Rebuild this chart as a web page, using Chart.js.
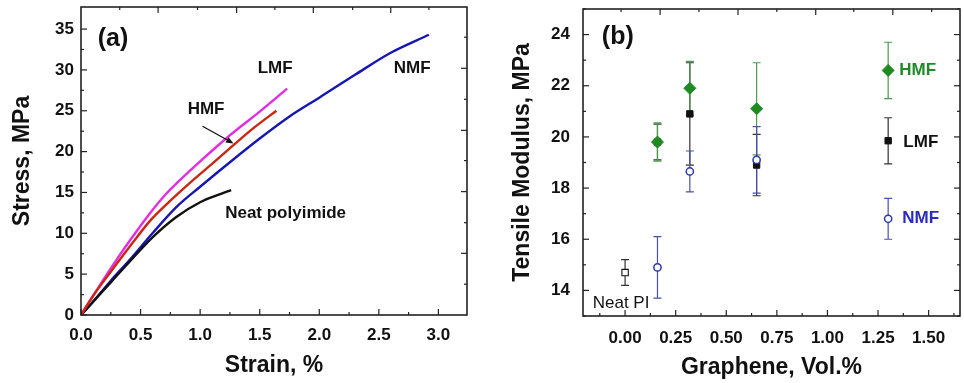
<!DOCTYPE html>
<html lang="en">
<head>
<meta charset="UTF-8">
<title>Stress-strain and tensile modulus</title>
<style>
  html, body { margin: 0; background: #fff; overflow: hidden; }
  #wrap { position: relative; width: 964px; height: 383px; overflow: hidden; }
  canvas { position: absolute; top: 0; }
</style>
</head>
<body>
<div id="wrap">
  <canvas id="chartA" width="480" height="383" style="left:0"></canvas>
  <canvas id="chartB" width="487" height="383" style="left:480px"></canvas>
</div>
<script src="https://cdn.jsdelivr.net/npm/chart.js@4.4.0/dist/chart.umd.min.js"></script>
<script>
// ---- panel (a): stress-strain curves ----
const neatStrain = [0, 0.1, 0.25, 0.4, 0.6, 0.8, 1.0, 1.15, 1.26];
const neatStress = [0, 1.6, 4.0, 6.4, 9.5, 12.0, 13.8, 14.7, 15.3];
const nmfStrain = [0, 0.1, 0.25, 0.4, 0.6, 0.8, 1.0, 1.25, 1.5, 1.75, 2.0, 2.3, 2.6, 2.92];
const nmfStress = [0, 1.6, 4.2, 6.6, 10.0, 13.2, 15.7, 18.7, 21.6, 24.3, 26.6, 29.4, 32.1, 34.3];
const hmfStrain = [0, 0.1, 0.25, 0.4, 0.59, 0.75, 0.9, 1.1, 1.28, 1.45, 1.64];
const hmfStress = [0, 2.3, 5.3, 8.2, 11.7, 14.0, 16.0, 18.5, 20.8, 22.9, 25.0];
const lmfStrain = [0, 0.1, 0.25, 0.4, 0.56, 0.7, 0.83, 1.0, 1.25, 1.5, 1.73];
const lmfStress = [0, 2.3, 5.7, 8.9, 12.1, 14.6, 16.5, 18.8, 22.0, 24.9, 27.7];

const strainTicks = [0, 0.5, 1.0, 1.5, 2.0, 2.5, 3.0];
const strainMinor = [0.25, 0.75, 1.25, 1.75, 2.25, 2.75];
const stressTicks = [0, 5, 10, 15, 20, 25, 30, 35];
const stressMinor = [2.5, 7.5, 12.5, 17.5, 22.5, 27.5, 32.5];
const strainTopMajor = [0.647, 1.306, 1.95, 2.6];
const strainTopMinor = [0.325, 0.978, 1.627, 2.28, 2.92];
const stressRightMajor = [7.55, 15.1, 22.6, 30.2];
const stressRightMinor = [3.77, 11.3, 18.9, 26.4, 34.0];

// ---- panel (b): tensile modulus ----
const neatX = [0];
const neatY = [14.7];
const neatErr = [0.5];
const hmfX = [0.16, 0.32, 0.65, 1.30];
const hmfY = [19.8, 21.9, 21.1, 22.6];
const hmfErr = [0.75, 1.05, 1.8, 1.1];
const lmfX = [0.16, 0.32, 0.65, 1.30];
const lmfY = [19.8, 20.9, 18.9, 19.85];
const lmfErr = [0.7, 2.0, 1.2, 0.9];
const nmfX = [0.16, 0.32, 0.65, 1.30];
const nmfY = [14.9, 18.65, 19.1, 16.8];
const nmfErr = [1.2, 0.8, 1.3, 0.8];

const grapheneTicks = [0, 0.25, 0.5, 0.75, 1.0, 1.25, 1.5];
const grapheneMinor = [-0.125, 0.125, 0.375, 0.625, 0.875, 1.125, 1.375, 1.625];
const modulusTicks = [14, 16, 18, 20, 22, 24];
const modulusMinor = [13, 15, 17, 19, 21, 23, 25];
const grapheneTopMajor = [0.173, 0.558, 0.942, 1.323];
const grapheneTopMinor = [-0.02, 0.365, 0.75, 1.13, 1.515];

const FONT = "'Liberation Sans', Arial, sans-serif";
const pts = (xs, ys) => xs.map((v, i) => ({ x: v, y: ys[i] }));

// box + inward ticks on all four sides
const framePlugin = {
  id: 'frame',
  afterDatasetsDraw(chart, args, opts) {
    if (!opts.bottom) return;
    const { ctx, chartArea: a, scales: { x, y } } = chart;
    ctx.save();
    ctx.strokeStyle = '#222';
    ctx.lineWidth = 1.2;
    const draw = (vals, len, side) => {
      vals.forEach(v => {
        ctx.beginPath();
        if (side === 'bottom' || side === 'top') {
          const p = x.getPixelForValue(v);
          const y0 = side === 'bottom' ? a.bottom : a.top;
          ctx.moveTo(p, y0);
          ctx.lineTo(p, side === 'bottom' ? y0 - len : y0 + len);
        } else {
          const p = y.getPixelForValue(v);
          const x0 = side === 'left' ? a.left : a.right;
          ctx.moveTo(x0, p);
          ctx.lineTo(side === 'left' ? x0 + len : x0 - len, p);
        }
        ctx.stroke();
      });
    };
    ['bottom', 'top', 'left', 'right'].forEach(s => {
      draw(opts[s][0], 6, s);
      draw(opts[s][1], 3, s);
    });
    ctx.lineWidth = 1.6;
    ctx.strokeRect(a.left, a.top, a.right - a.left, a.bottom - a.top);
    ctx.restore();
  }
};

// text labels placed in data coordinates, plus an optional arrow
const notesPlugin = {
  id: 'notes',
  afterDatasetsDraw(chart, args, opts) {
    if (!opts.items) return;
    const { ctx, scales: { x, y } } = chart;
    ctx.save();
    opts.items.forEach(n => {
      ctx.font = n.font;
      ctx.fillStyle = n.color || '#111';
      ctx.textAlign = n.align || 'left';
      ctx.textBaseline = 'middle';
      ctx.fillText(n.text, x.getPixelForValue(n.x), y.getPixelForValue(n.y));
    });
    if (opts.arrow) {
      const [x1, y1, x2, y2] = opts.arrow;
      const ax = x.getPixelForValue(x1), ay = y.getPixelForValue(y1);
      const bx = x.getPixelForValue(x2), by = y.getPixelForValue(y2);
      const ang = Math.atan2(by - ay, bx - ax);
      ctx.strokeStyle = '#111';
      ctx.fillStyle = '#111';
      ctx.lineWidth = 1.3;
      ctx.beginPath();
      ctx.moveTo(ax, ay);
      ctx.lineTo(bx - 5 * Math.cos(ang), by - 5 * Math.sin(ang));
      ctx.stroke();
      ctx.beginPath();
      ctx.moveTo(bx, by);
      ctx.lineTo(bx - 8 * Math.cos(ang - 0.4), by - 8 * Math.sin(ang - 0.4));
      ctx.lineTo(bx - 8 * Math.cos(ang + 0.4), by - 8 * Math.sin(ang + 0.4));
      ctx.closePath();
      ctx.fill();
    }
    ctx.restore();
  }
};

const errorBarPlugin = {
  id: 'errorBars',
  beforeDatasetsDraw(chart) {
    const { ctx, scales: { x, y } } = chart;
    chart.data.datasets.forEach(ds => {
      if (!ds.errors) return;
      ctx.save();
      ctx.strokeStyle = ds.errorColor;
      ctx.lineWidth = 1.2;
      ds.data.forEach((p, i) => {
        const px = x.getPixelForValue(p.x);
        const t = y.getPixelForValue(p.y + ds.errors[i]);
        const b = y.getPixelForValue(p.y - ds.errors[i]);
        ctx.beginPath();
        ctx.moveTo(px, t); ctx.lineTo(px, b);
        ctx.moveTo(px - 4, t); ctx.lineTo(px + 4, t);
        ctx.moveTo(px - 4, b); ctx.lineTo(px + 4, b);
        ctx.stroke();
      });
      ctx.restore();
    });
  }
};

Chart.register(framePlugin, notesPlugin, errorBarPlugin);

const tickFont = { family: FONT, size: 17, weight: 'bold' };
const titleFont = { family: FONT, size: 23, weight: 'bold', lineHeight: 1.2 };
const noGrid = { display: false, drawTicks: false };

// fixed axis box sizes, no extra room for label overhang
const fixX = h => s => { s.height = h; s.paddingLeft = 0; s.paddingRight = 0; };
const fixY = w => s => { s.width = w; s.paddingTop = 0; s.paddingBottom = 0; };

function curve(xs, ys, color, order) {
  return {
    data: pts(xs, ys), showLine: true, borderColor: color, borderWidth: 2.4,
    pointRadius: 0, cubicInterpolationMode: 'monotone', order: order
  };
}

new Chart(document.getElementById('chartA'), {
  type: 'scatter',
  data: {
    datasets: [
      curve(nmfStrain, nmfStress, '#1616b4', 4),
      curve(neatStrain, neatStress, '#111111', 3),
      curve(lmfStrain, lmfStress, '#e22ee2', 2),
      curve(hmfStrain, hmfStress, '#cc2612', 1)
    ]
  },
  options: {
    responsive: false,
    animation: false,
    layout: { padding: { left: 0, right: 13, top: 7, bottom: 0 } },
    scales: {
      x: {
        type: 'linear', min: 0, max: 3.24,
        afterBuildTicks: s => { s.ticks = strainTicks.map(v => ({ value: v })); },
        afterFit: fixX(68),
        grid: noGrid, border: { display: false },
        ticks: { font: tickFont, color: '#111', padding: 10, maxRotation: 0,
                 callback: v => v.toFixed(1) },
        title: { display: true, text: 'Strain, %', font: titleFont, color: '#111',
                 padding: { top: 0, bottom: 4 } }
      },
      y: {
        type: 'linear', min: 0, max: 37.7,
        afterBuildTicks: s => { s.ticks = stressTicks.map(v => ({ value: v })); },
        afterFit: fixY(81),
        grid: noGrid, border: { display: false },
        ticks: { font: tickFont, color: '#111', padding: 7, callback: v => String(v) },
        title: { display: true, text: 'Stress, MPa', font: titleFont, color: '#111',
                 padding: { top: 9, bottom: 0 } }
      }
    },
    plugins: {
      legend: { display: false },
      tooltip: { enabled: false },
      frame: {
        bottom: [strainTicks, strainMinor], top: [strainTopMajor, strainTopMinor],
        left: [stressTicks, stressMinor], right: [stressRightMajor, stressRightMinor]
      },
      notes: {
        items: [
          { text: '(a)', x: 0.14, y: 33.8, font: `bold 25px ${FONT}` },
          { text: 'LMF', x: 1.63, y: 30.2, font: `bold 17px ${FONT}`, align: 'center' },
          { text: 'NMF', x: 2.78, y: 30.2, font: `bold 17px ${FONT}`, align: 'center' },
          { text: 'HMF', x: 1.05, y: 25.2, font: `bold 17px ${FONT}`, align: 'center' },
          { text: 'Neat polyimide', x: 1.21, y: 12.4, font: `bold 17px ${FONT}` }
        ],
        arrow: [1.02, 23.1, 1.28, 21.0]
      }
    }
  }
});

new Chart(document.getElementById('chartB'), {
  type: 'scatter',
  data: {
    datasets: [
      { data: pts(neatX, neatY), errors: neatErr, errorColor: '#333', pointStyle: 'rect',
        pointRadius: 4.5, backgroundColor: '#fff', borderColor: '#111', borderWidth: 1.1, order: 4 },
      { data: pts(lmfX, lmfY), errors: lmfErr, errorColor: '#333', pointStyle: 'rect',
        pointRadius: 4.5, backgroundColor: '#111', borderColor: '#111', borderWidth: 1, order: 3 },
      { data: pts(hmfX, hmfY), errors: hmfErr, errorColor: '#4d9a4d', pointStyle: 'rectRot',
        pointRadius: 6, backgroundColor: '#1f8a1f', borderColor: '#1f8a1f', borderWidth: 1, order: 2 },
      { data: pts(nmfX, nmfY), errors: nmfErr, errorColor: '#4a50a8', pointStyle: 'circle',
        pointRadius: 3.6, backgroundColor: '#fff', borderColor: '#2a36a8', borderWidth: 1.5, order: 1 }
    ]
  },
  options: {
    responsive: false,
    animation: false,
    layout: { padding: { left: 0, right: 2, top: 9, bottom: 0 } },
    scales: {
      x: {
        type: 'linear', min: -0.208, max: 1.655,
        afterBuildTicks: s => { s.ticks = grapheneTicks.map(v => ({ value: v })); },
        afterFit: fixX(67),
        grid: noGrid, border: { display: false },
        ticks: { font: tickFont, color: '#111', padding: 12, maxRotation: 0,
                 callback: v => v.toFixed(2) },
        title: { display: true, text: 'Graphene, Vol.%', font: titleFont, color: '#111',
                 padding: { top: 0, bottom: 2 } }
      },
      y: {
        type: 'linear', min: 13, max: 25,
        afterBuildTicks: s => { s.ticks = modulusTicks.map(v => ({ value: v })); },
        afterFit: fixY(103),
        grid: noGrid, border: { display: false },
        ticks: { font: tickFont, color: '#111', padding: 13, callback: v => String(v) },
        title: { display: true, text: 'Tensile Modulus, MPa', font: titleFont, color: '#111',
                 padding: { top: 29, bottom: 0 } }
      }
    },
    plugins: {
      legend: { display: false },
      tooltip: { enabled: false },
      frame: {
        bottom: [grapheneTicks, grapheneMinor], top: [grapheneTopMajor, grapheneTopMinor],
        left: [modulusTicks, modulusMinor], right: [modulusTicks, modulusMinor]
      },
      notes: {
        items: [
          { text: '(b)', x: -0.115, y: 23.9, font: `bold 25px ${FONT}` },
          { text: 'HMF', x: 1.355, y: 22.6, font: `bold 17px ${FONT}`, color: '#238a2a' },
          { text: 'LMF', x: 1.375, y: 19.8, font: `bold 17px ${FONT}`, color: '#111' },
          { text: 'NMF', x: 1.37, y: 16.8, font: `bold 17px ${FONT}`, color: '#2a2ac4' },
          { text: 'Neat PI', x: -0.16, y: 13.5, font: `17px ${FONT}`, color: '#111' }
        ]
      }
    }
  }
});
</script>
</body>
</html>
